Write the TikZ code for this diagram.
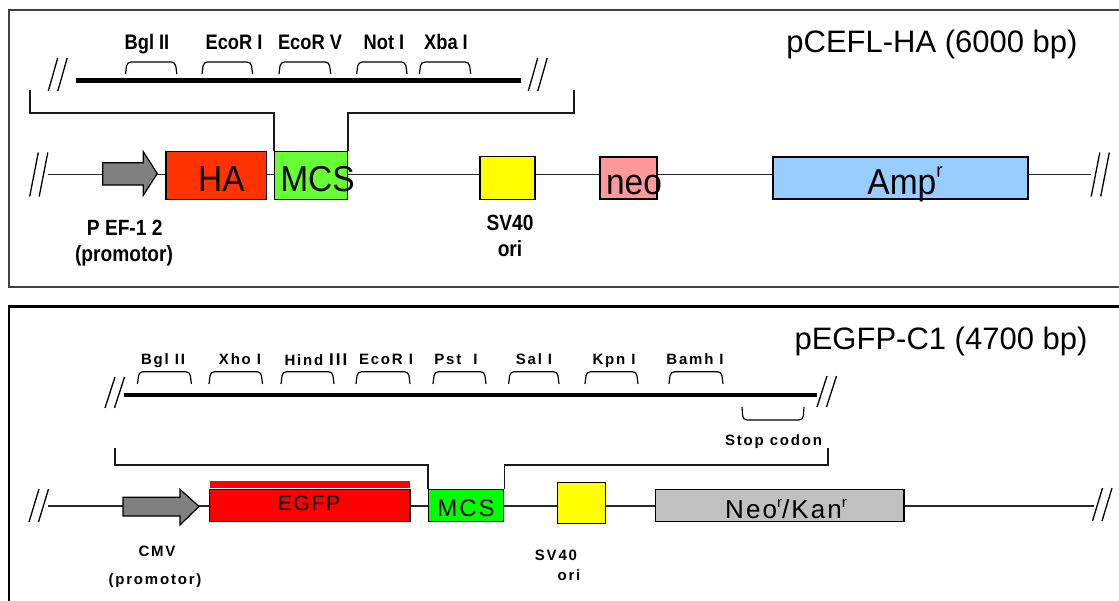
\documentclass[tikz,border=0pt]{standalone}
\usepackage{fontspec}
\setmainfont{Liberation Sans}
\newfontfamily\tightsf[FakeStretch=0.87]{Liberation Sans}
\newfontfamily\boxsf[FakeStretch=0.93]{Liberation Sans}
\newfontfamily\widesf[LetterSpace=12]{Liberation Sans}
\newfontfamily\boxwide[LetterSpace=8]{Liberation Sans}
\usetikzlibrary{calc}
\definecolor{haRed}{HTML}{FF3300}
\definecolor{mcsLime}{HTML}{66FF33}
\definecolor{mcsGreen}{HTML}{00FF00}
\definecolor{oriYellow}{HTML}{FFFF00}
\definecolor{neoPink}{HTML}{FF9999}
\definecolor{ampBlue}{HTML}{99CCFF}
\definecolor{egfpRed}{HTML}{FF0000}
\definecolor{kanGray}{HTML}{C0C0C0}
\definecolor{promGray}{HTML}{808080}
\definecolor{frameGray}{HTML}{404040}
% two slashes: mid x of the first one, mid y, half height, half run
\newcommand{\cutmark}[4]{%
  \foreach \s in {0,9.5}
    \draw[cutln] ($(#1+\s,#2)+(-#4,#3)$) -- ($(#1+\s,#2)+(#4,-#3)$);}
% restriction site bracket, open below / open above
\newcommand{\sitecap}[4]{\draw[sitebr] (#1,#4) -- (#1+1.5,#3) -- (#2-1.5,#3) -- (#2,#4);}
\newcommand{\sitecup}[4]{\draw[sitebr] (#1,#3) -- (#1+1,#4) -- (#2-1,#4) -- (#2,#3);}

\begin{document}
\begin{tikzpicture}[x=1pt,y=-1pt,
    gene/.style={draw=black,line width=1.3pt,inner sep=0pt},
    dna/.style={line width=1.4pt,draw=black!85},
    mcsbar/.style={line width=#1,draw=black},
    cutln/.style={line width=1.3pt,draw=black},
    sitebr/.style={line width=1.2pt,rounded corners=4pt},
    brack/.style={line width=1.4pt,draw=black!90},
    prom/.style={draw=black,fill=promGray,line width=1.2pt},
    title/.style={anchor=base,inner sep=0pt,font=\fontsize{31}{36}\selectfont},
    lblA/.style={anchor=base,inner sep=0pt,font=\tightsf\bfseries\fontsize{21}{24}\selectfont},
    promA/.style={anchor=base,inner sep=0pt,font=\tightsf\bfseries\fontsize{22}{25}\selectfont},
    txtA/.style={anchor=base,inner sep=0pt,font=\boxsf\fontsize{36}{40}\selectfont},
    lblB/.style={anchor=base,inner sep=0pt,font=\widesf\bfseries\fontsize{15}{18}\selectfont},
    txtB/.style={anchor=base,inner sep=0pt,font=\boxwide\fontsize{#1}{#1}\selectfont}]
  \path[fill=white,use as bounding box] (0,0) rectangle (1119,600);

  % ---------------- pCEFL-HA ----------------
  \draw[frameGray,line width=2pt] (9,10) rectangle (1130,287);
  \node[title] (tA) at (932,52) {pCEFL-HA (6000 bp)};

  \coordinate (thA1) at (76,80.7);
  \coordinate (thA2) at (521,80.7);
  \draw[mcsbar=5pt] (thA1) -- (thA2);
  \cutmark{53}{74.5}{16.5}{4.7}
  \cutmark{533}{74.5}{16.5}{4.7}
  \sitecap{125.5}{176.8}{62}{74}
  \sitecap{202}{252.6}{62}{74}
  \sitecap{279}{330.7}{62}{74}
  \sitecap{356.7}{407}{62}{74}
  \sitecap{419.4}{470.7}{62}{74}
  \node[lblA] (bglA) at (147,49) {Bgl II};
  \node[lblA] (ecoA) at (234,49) {EcoR I};
  \node[lblA] (ecvA) at (310,49) {EcoR V};
  \node[lblA] (notA) at (384,49) {Not I};
  \node[lblA] (xbaA) at (446,49) {Xba I};

  \coordinate (bbA1) at (48,174.5);
  \coordinate (bbA2) at (1091,174.5);
  \draw[dna] (bbA1) -- (bbA2);
  \cutmark{34}{174.5}{22}{4.3}
  \cutmark{1095.5}{174.5}{22}{4.3}

  \filldraw[prom] (102.7,162.7) -- (143.3,162.7) -- (143.3,151.7) -- (157.3,173.5)
    -- (143.3,195.3) -- (143.3,185) -- (102.7,185) -- cycle;
  \coordinate (pefA) at (130,173.5);
  \node[gene,fill=haRed,minimum width=100.7,minimum height=47.6] (haA) at (216.3,175.5) {};
  \node[gene,fill=mcsLime,minimum width=72.8,minimum height=47.6] (mcsA) at (311.1,175.5) {};
  \node[gene,fill=oriYellow,minimum width=55,minimum height=42.6] (svA) at (507.5,178) {};
  \node[gene,fill=neoPink,minimum width=57,minimum height=42] (neoA) at (628.5,178) {};
  \node[gene,fill=ampBlue,minimum width=255,minimum height=42] (ampA) at (900.5,178) {};
  \node[txtA] (haT) at (221.5,191.5) {HA};
  \node[txtA] (mcsT) at (317.5,191.5) {MCS};
  \node[txtA] (neoT) at (634,194) {neo};
  \node[txtA] (ampT) at (905,194) {Amp\raisebox{17pt}{\fontsize{20}{20}\selectfont r}};

  \coordinate (bkA1) at (30,90);
  \coordinate (bkA2) at (574,90);
  \coordinate (lvA) at (0,113);
  \draw[brack] (bkA1) |- (lvA -| mcsA.north west) -- (mcsA.north west);
  \draw[brack] (mcsA.north east) -- (lvA -| mcsA.north east) -| (bkA2);

  \node[promA] (pefL) at (124.7,235) {P EF-1 2};
  \node[promA] (pefM) at (124,261) {(promotor)};
  \node[promA] (svL) at (510,230) {SV40};
  \node[promA] (svM) at (510,256) {ori};

  % ---------------- pEGFP-C1 ----------------
  \draw[black,line width=2.5pt] (9,306.7) rectangle (1130,610);
  \node[title] (tB) at (941,349) {pEGFP-C1 (4700 bp)};

  \coordinate (thB1) at (124,395);
  \coordinate (thB2) at (817,395);
  \draw[mcsbar=3.7pt] (thB1) -- (thB2);
  \cutmark{110}{392.5}{15.5}{5}
  \cutmark{822}{391.5}{15.5}{5}
  \sitecap{137.5}{191.4}{371.7}{384}
  \sitecap{209}{262.5}{371.7}{384}
  \sitecap{281}{334}{371.7}{384}
  \sitecap{356}{410}{371.7}{384}
  \sitecap{433}{486}{371.7}{384}
  \sitecap{508.6}{559}{371.7}{384}
  \sitecap{585}{638}{371.7}{384}
  \sitecap{669}{723}{371.7}{384}
  \sitecup{742}{804}{407}{420}
  \node[lblB] (bglB) at (163,364) {Bgl II};
  \node[lblB] (xhoB) at (240,364) {Xho I};
  \node[lblB] (hinB) at (316,365.5) {Hind {\fontsize{17}{17}\selectfont III}};
  \node[lblB] (ecoB) at (386,364) {EcoR I};
  \node[lblB] (pstB) at (456,364) {Pst\hspace{12pt}I};
  \node[lblB] (salB) at (534,364) {Sal I};
  \node[lblB] (kpnB) at (614,364) {Kpn I};
  \node[lblB] (bamB) at (695,364) {Bamh I};
  \node[lblB] (stopB) at (773.5,445) {Stop codon};

  \coordinate (bbB1) at (48,506);
  \coordinate (bbB2) at (1094,506);
  \draw[dna] (bbB1) -- (bbB2);
  \cutmark{34}{505.5}{16.5}{5}
  \cutmark{1097.5}{504.5}{16.5}{5}

  \filldraw[prom] (123,497.3) -- (180,497.3) -- (180,489.3) -- (199,506.5)
    -- (180,525) -- (180,516) -- (123,516) -- cycle;
  \coordinate (cmvB) at (160,506.5);
  \node[gene,fill=egfpRed,minimum width=200.4,minimum height=32.4] (egfpB) at (309.8,505.5) {};
  \node[fill=egfpRed,inner sep=0pt,minimum width=200.4,minimum height=7.3,anchor=south] (egfpS) at (egfpB.north) {};
  \node[gene,fill=mcsGreen,minimum width=75,minimum height=32.4] (mcsB) at (466.1,505.5) {};
  \node[gene,fill=oriYellow,minimum width=48,minimum height=40.6] (svB) at (581.7,503) {};
  \node[gene,fill=kanGray,minimum width=248.3,minimum height=32.4] (neoB) at (779.8,505.5) {};
  \node[txtB=21] (egfpT) at (309,510) {EGFP};
  \node[txtB=24] (mcsT2) at (466,516) {MCS};
  \node[txtB=26] (neoT2) at (786,518) {Neo\raisebox{11pt}{\fontsize{15}{15}\selectfont r}/Kan\raisebox{11pt}{\fontsize{15}{15}\selectfont r}};

  \coordinate (bkB1) at (115,448);
  \coordinate (bkB2) at (828,448);
  \coordinate (lvB) at (0,465);
  \draw[brack] (bkB1) |- (lvB -| mcsB.north west) -- (mcsB.north west);
  \draw[brack] (mcsB.north east) -- (lvB -| mcsB.north east) -| (bkB2);

  \node[lblB] (cmvL) at (157,556) {CMV};
  \node[lblB] (cmvM) at (155,584) {(promotor)};
  \node[lblB] (svL2) at (556,560) {SV40};
  \node[lblB] (svM2) at (569,580) {ori};
\end{tikzpicture}
\end{document}
